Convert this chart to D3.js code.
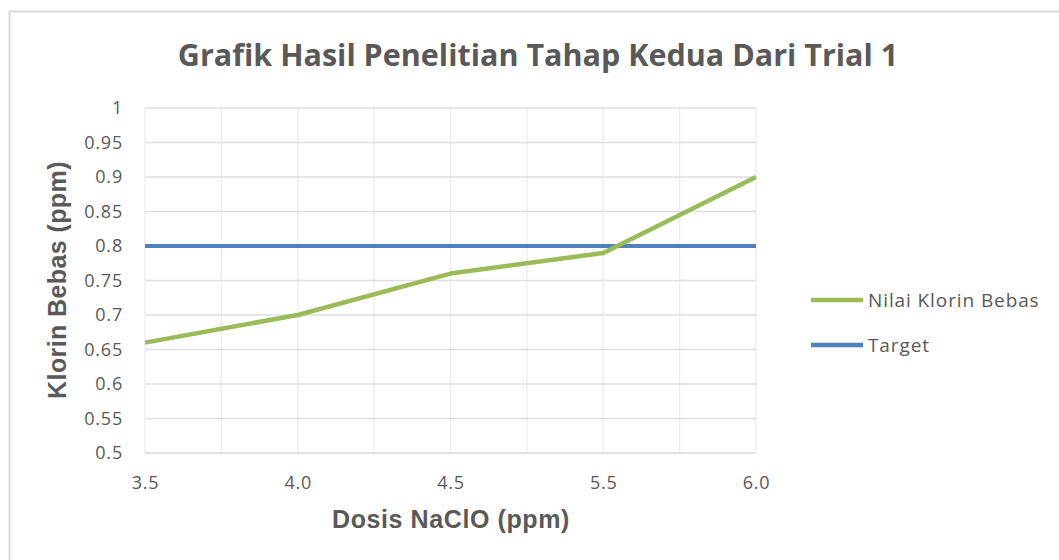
<!DOCTYPE html>
<html><head><meta charset="utf-8">
<script src="https://cdn.jsdelivr.net/npm/d3@7"></script>
<style>body{margin:0;background:#fff}svg{display:block}</style>
</head><body>
<script>
const categories = ["3.5","4.0","4.5","5.5","6.0"];
const nilaiKlorin = [0.66, 0.70, 0.76, 0.79, 0.90];
const target = [0.80, 0.80, 0.80, 0.80, 0.80];
const yTicks = [0.5,0.55,0.6,0.65,0.7,0.75,0.8,0.85,0.9,0.95,1];
const seriesNames = ["Nilai Klorin Bebas","Target"];
const colors = ["#9bbb59","#4f81bd"];

const W=1059,H=560;
const svg=d3.select("body").append("svg").attr("width",W).attr("height",H);
svg.append("rect").attr("x",9.5).attr("y",11.5).attr("width",1060).attr("height",560).attr("fill","#fff").attr("stroke","#d9d9d9").attr("stroke-width",2);

const L=145,R=756,T=108,B=453;
const x=d3.scalePoint().domain(categories).range([L,R]);
const y=d3.scaleLinear().domain([0.5,1]).range([B,T]);
const font="'Open Sans', 'Liberation Sans', sans-serif";
const bold="'Liberation Sans', Arial, sans-serif";

// vertical gridlines (every half category)
const xs=d3.scaleLinear().domain([0,8]).range([L,R]);
svg.append("g").selectAll("line").data(d3.range(0,9)).join("line")
  .attr("x1",d=>xs(d)).attr("x2",d=>xs(d)).attr("y1",T).attr("y2",B)
  .attr("stroke","#ececec").attr("stroke-width",1.3);
// horizontal gridlines
svg.append("g").selectAll("line").data(yTicks).join("line")
  .attr("x1",L).attr("x2",R).attr("y1",d=>y(d)).attr("y2",d=>y(d))
  .attr("stroke",d=>d===0.5?"#d9d9d9":"#dedede").attr("stroke-width",1.5);

// y axis labels
const yAxis=d3.axisLeft(y).tickValues(yTicks).tickSize(0).tickPadding(22).tickFormat(d=>String(+d.toFixed(2)));
const gy=svg.append("g").attr("transform",`translate(${L},0)`).call(yAxis);
gy.select(".domain").remove();
gy.selectAll("text").attr("font-family",font).attr("font-size",18).attr("letter-spacing",0.8).attr("fill","#595959");

const xAxis=d3.axisBottom(x).tickSize(0).tickPadding(23);
const gx=svg.append("g").attr("transform",`translate(0,${B})`).call(xAxis);
gx.select(".domain").remove();
gx.selectAll("text").attr("font-family",font).attr("font-size",18).attr("letter-spacing",0.8).attr("fill","#595959");

const line=d3.line().x((d,i)=>x(categories[i])).y(d=>y(d));
svg.append("path").datum(target).attr("d",line).attr("fill","none").attr("stroke",colors[1]).attr("stroke-width",4);
svg.append("path").datum(nilaiKlorin).attr("d",line).attr("fill","none").attr("stroke",colors[0]).attr("stroke-width",4.5).attr("stroke-linejoin","round");

// title
svg.append("text").attr("x",538).attr("y",66).attr("text-anchor","middle")
  .attr("font-family",font).attr("font-weight","bold").attr("font-size",30.5).attr("fill","#595959")
  .text("Grafik Hasil Penelitian Tahap Kedua Dari Trial 1");
// axis titles
svg.append("text").attr("x",451).attr("y",528).attr("text-anchor","middle")
  .attr("font-family",bold).attr("font-weight","bold").attr("font-size",25).attr("letter-spacing",0.6).attr("fill","#595959")
  .text("Dosis NaClO (ppm)");
svg.append("text").attr("transform","translate(66,280) rotate(-90)").attr("text-anchor","middle")
  .attr("font-family",bold).attr("font-weight","bold").attr("font-size",25).attr("letter-spacing",0.4).attr("fill","#595959")
  .text("Klorin Bebas (ppm)");

// legend
const lg=svg.append("g");
seriesNames.forEach((n,i)=>{
  const yy=300+i*45;
  lg.append("line").attr("x1",811).attr("x2",863).attr("y1",yy).attr("y2",yy).attr("stroke",colors[i]).attr("stroke-width",4.5);
  lg.append("text").attr("x",868).attr("y",yy+7).attr("font-family",font).attr("font-size",19).attr("letter-spacing",0.9).attr("fill","#595959").text(n);
});
</script>
</body></html>
